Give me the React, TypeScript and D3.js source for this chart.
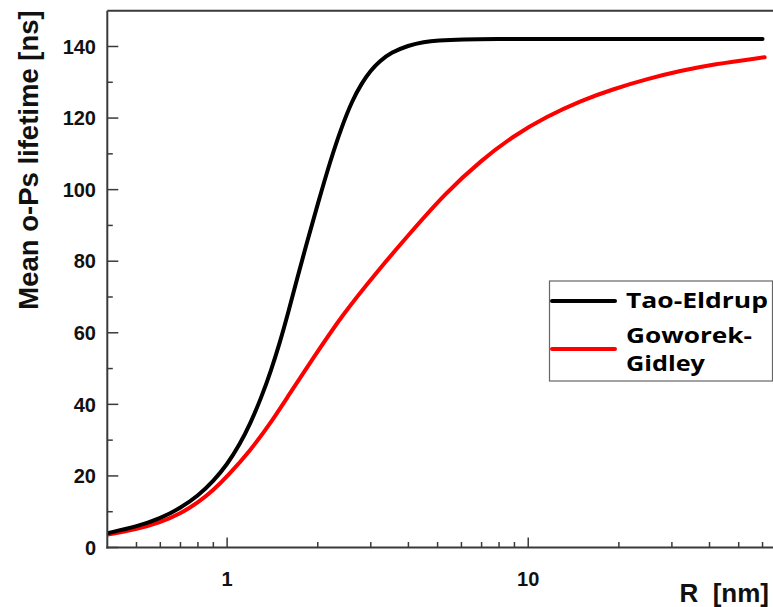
import React from "react";
import * as d3 from "d3";

// Tao-Eldrup curve (R in nm, mean o-Ps lifetime in ns)
const teR = [0.4, 0.5, 0.6, 0.7, 0.8, 0.9, 1.0, 1.1, 1.2, 1.3, 1.4, 1.5, 1.6, 1.7, 1.83, 2.0, 2.2, 2.4, 2.6, 2.8, 3.0, 3.2, 3.5, 4.0, 4.5, 5.0, 6.0, 8.0, 10, 20, 40, 60];
const teTau = [4.0, 5.8, 8.1, 11.0, 14.4, 18.5, 23.2, 28.7, 35.0, 42.0, 49.5, 57.5, 66.0, 74.5, 84.5, 96.0, 108.0, 117.5, 124.8, 129.8, 133.3, 135.8, 138.3, 140.3, 141.3, 141.7, 142.0, 142.1, 142.1, 142.1, 142.1, 142.1];

// Goworek-Gidley curve
const ggR = [0.4, 0.5, 0.6, 0.7, 0.8, 0.9, 1.0, 1.2, 1.4, 1.6, 1.9, 2.4, 3.2, 4.0, 5.3, 7.0, 9.0, 11.5, 15, 19, 25, 32, 41, 61];
const ggTau = [3.6, 5.1, 7.0, 9.5, 12.5, 16.0, 19.8, 27.3, 35.0, 42.5, 52.0, 64.8, 77.8, 87.3, 99.0, 108.3, 115.2, 120.4, 124.9, 128.0, 131.0, 133.2, 135.0, 137.0];

const seriesNames = ["Tao-Eldrup", "Goworek-", "Gidley"];
const yMajorTicks = [0, 20, 40, 60, 80, 100, 120, 140];
const yMinorTicks = [10, 30, 50, 70, 90, 110, 130];
const xMajorTicks = [1, 10];
const xMinorTicks = [0.5, 0.6, 0.7, 0.8, 0.9, 2, 3, 4, 5, 6, 7, 8, 9, 20, 30, 40, 50, 60];

const W = 773;
const H = 607;
const left = 107.3;
const right = 782.7;
const top = 10.7;
const bottom = 547.5;

export default function App() {
  const x = d3.scaleLog().domain([0.4, 70]).range([left, right]);
  const y = d3.scaleLinear().domain([0, 150]).range([bottom, top]);

  const line = d3
    .line<[number, number]>()
    .x((d) => x(d[0]))
    .y((d) => y(d[1]))
    .curve(d3.curveBasis);

  const teData = teR.map((r, i) => [r, teTau[i]] as [number, number]);
  const ggData = ggR.map((r, i) => [r, ggTau[i]] as [number, number]);

  const axisColor = "#3a3a3a";
  const tickFont = "'Liberation Sans', Arial, sans-serif";

  return (
    <svg
      width={W}
      height={H}
      style={{ position: "absolute", left: 0, top: 0, background: "#fff" }}
    >
      <rect x={0} y={0} width={W} height={H} fill="#fff" />
      <defs>
        <clipPath id="plot">
          <rect x={left} y={top} width={right - left} height={bottom - top} />
        </clipPath>
      </defs>

      {/* curves */}
      <g clipPath="url(#plot)">
        <path d={line(ggData) || ""} fill="none" stroke="#ff0000" strokeWidth={4} strokeLinecap="round" />
        <path d={line(teData) || ""} fill="none" stroke="#000" strokeWidth={4} strokeLinecap="round" />
      </g>

      {/* frame */}
      <line x1={left} x2={right} y1={top} y2={top} stroke={axisColor} strokeWidth={2} />
      <line x1={right} x2={right} y1={top} y2={bottom} stroke={axisColor} strokeWidth={2} />
      <line x1={left} x2={left} y1={top} y2={bottom + 1} stroke={axisColor} strokeWidth={2} />
      <line x1={left - 1} x2={right} y1={bottom} y2={bottom} stroke={axisColor} strokeWidth={2} />

      {/* y ticks */}
      {yMajorTicks.map((t) => (
        <g key={"ym" + t}>
          <line x1={left} x2={left + 11} y1={y(t)} y2={y(t)} stroke={axisColor} strokeWidth={1.5} />
          <text
            x={96}
            y={y(t)}
            dy="0.36em"
            textAnchor="end"
            fontFamily={tickFont}
            fontWeight="bold"
            fontSize={20}
            fill="#111"
          >
            {t}
          </text>
        </g>
      ))}
      {yMinorTicks.map((t) => (
        <line key={"yn" + t} x1={left} x2={left + 5.5} y1={y(t)} y2={y(t)} stroke={axisColor} strokeWidth={1.5} />
      ))}

      {/* x ticks */}
      {xMajorTicks.map((t) => (
        <g key={"xm" + t}>
          <line x1={x(t)} x2={x(t)} y1={bottom} y2={bottom - 10} stroke={axisColor} strokeWidth={1.5} />
          <text
            x={x(t)}
            y={586}
            textAnchor="middle"
            fontFamily={tickFont}
            fontWeight="bold"
            fontSize={20}
            fill="#111"
          >
            {t}
          </text>
        </g>
      ))}
      {xMinorTicks.map((t) => (
        <line key={"xn" + t} x1={x(t)} x2={x(t)} y1={bottom} y2={bottom - 5.5} stroke={axisColor} strokeWidth={1.5} />
      ))}

      {/* axis titles */}
      <text
        transform={`translate(38,160) rotate(-90)`}
        textAnchor="middle"
        fontFamily={tickFont}
        fontWeight="bold"
        fontSize={27.5}
        fill="#111"
      >
        Mean o-Ps lifetime [ns]
      </text>
      <text
        x={769}
        y={602}
        textAnchor="end"
        fontFamily={tickFont}
        fontWeight="bold"
        fontSize={26}
        fill="#111"
        style={{ whiteSpace: "pre" }}
      >
        {"R  [nm]"}
      </text>

      {/* legend */}
      <rect x={549.5} y={281} width={223} height={100} fill="#fff" stroke="#666" strokeWidth={1.2} />
      <line x1={552} x2={615} y1={301} y2={301} stroke="#000" strokeWidth={4} strokeLinecap="round" />
      <line x1={552} x2={615} y1={349} y2={349} stroke="#ff0000" strokeWidth={4} strokeLinecap="round" />
      <text x={626} y={308} fontFamily="'Open Sans', sans-serif" fontWeight="bold" fontSize={21} fill="#000" textLength={142} lengthAdjust="spacingAndGlyphs">
        {seriesNames[0]}
      </text>
      <text x={626} y={343} fontFamily="'Open Sans', sans-serif" fontWeight="bold" fontSize={20.5} fill="#000" textLength={126} lengthAdjust="spacingAndGlyphs">
        {seriesNames[1]}
      </text>
      <text x={626} y={371} fontFamily="'Open Sans', sans-serif" fontWeight="bold" fontSize={20.5} fill="#000" textLength={79} lengthAdjust="spacingAndGlyphs">
        {seriesNames[2]}
      </text>
    </svg>
  );
}
